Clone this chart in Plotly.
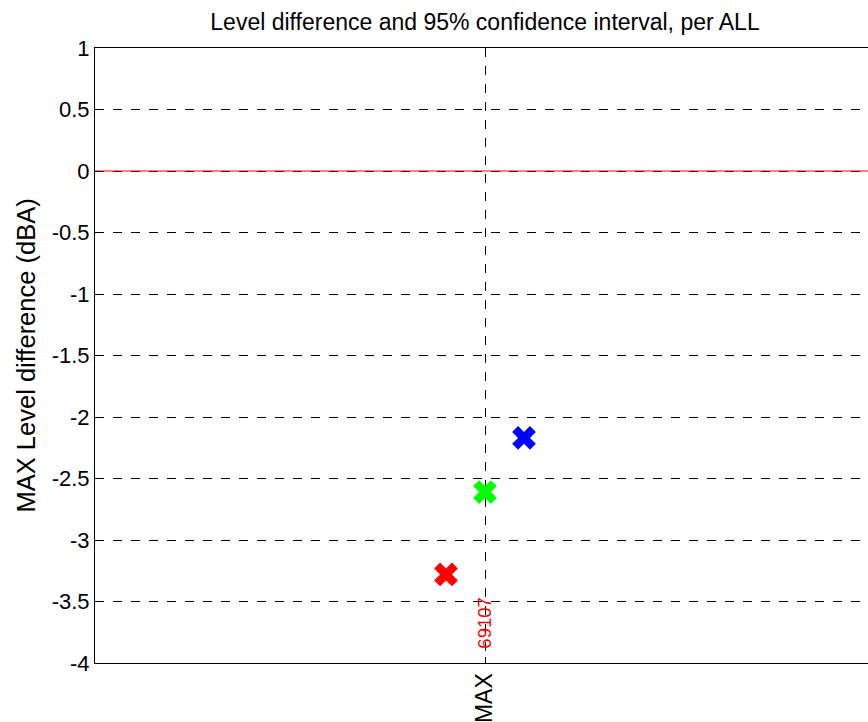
import plotly.graph_objects as go

# Level differences per category with their horizontal offsets
categories = ["MAX"]
cat_pos = [1]
series_offsets = [-0.1, 0.0, 0.1]
series_values = [-3.28, -2.61, -2.17]
series_colors = ["#ff0000", "#00ff00", "#0000ff"]
count_label = "69107"
count_label_y = -3.68

y_ticks = [1, 0.5, 0, -0.5, -1, -1.5, -2, -2.5, -3, -3.5, -4]
y_tick_text = ["1", "0.5", "0", "-0.5", "-1", "-1.5", "-2", "-2.5", "-3", "-3.5", "-4"]

FONT = "Liberation Sans, Arial, sans-serif"
x_max = 773 / 390 * 1.0  # visible part of the [0, 2] axis

fig = go.Figure()

# zero reference line
fig.add_trace(go.Scatter(x=[0, 2], y=[0, 0], mode="lines",
                         line=dict(color="#ff0000", width=1),
                         showlegend=False, hoverinfo="skip"))

for off, val, col in zip(series_offsets, series_values, series_colors):
    fig.add_trace(go.Scatter(x=[cat_pos[0] + off], y=[val], mode="markers",
                             marker=dict(symbol="x", size=21, color=col,
                                         line=dict(width=0)),
                             showlegend=False))

fig.add_annotation(x=cat_pos[0], y=count_label_y, xref="x", yref="y",
                   text=count_label, textangle=-90, showarrow=False,
                   font=dict(color="#ff0000", size=18.5, family=FONT))

# y-axis title
fig.add_annotation(x=(25 - 95) / 773, y=0.5, xref="paper", yref="paper",
                   xanchor="center", yanchor="middle",
                   text="MAX Level difference (dBA)", textangle=-90,
                   showarrow=False, font=dict(size=25.5, family=FONT, color="black"))

fig.update_layout(
    width=868, height=722,
    margin=dict(l=95, r=0, t=48, b=59),
    paper_bgcolor="white", plot_bgcolor="white",
    font=dict(family=FONT, size=22, color="black"),
    title=dict(text="Level difference and 95% confidence interval, per ALL",
               x=485 / 868, xanchor="center", y=1 - 22 / 722, yanchor="middle",
               font=dict(size=23)),
    xaxis=dict(range=[0, x_max], tickmode="array", tickvals=cat_pos,
               ticktext=categories, tickangle=-90,
               tickfont=dict(size=23),
               showgrid=True, gridcolor="black", griddash="dash", gridwidth=1,
               showline=True, linecolor="black", linewidth=1, mirror="ticks",
               ticks="inside", ticklen=6, tickcolor="black",
               zeroline=False, fixedrange=True),
    yaxis=dict(range=[-4, 1], tickmode="array", tickvals=y_ticks,
               ticktext=y_tick_text,
               showgrid=True, gridcolor="black", griddash="dash", gridwidth=1,
               showline=True, linecolor="black", linewidth=1, mirror=False,
               ticks="inside", ticklen=6, tickcolor="black",
               zeroline=False),
)

fig.write_html("out.html")
